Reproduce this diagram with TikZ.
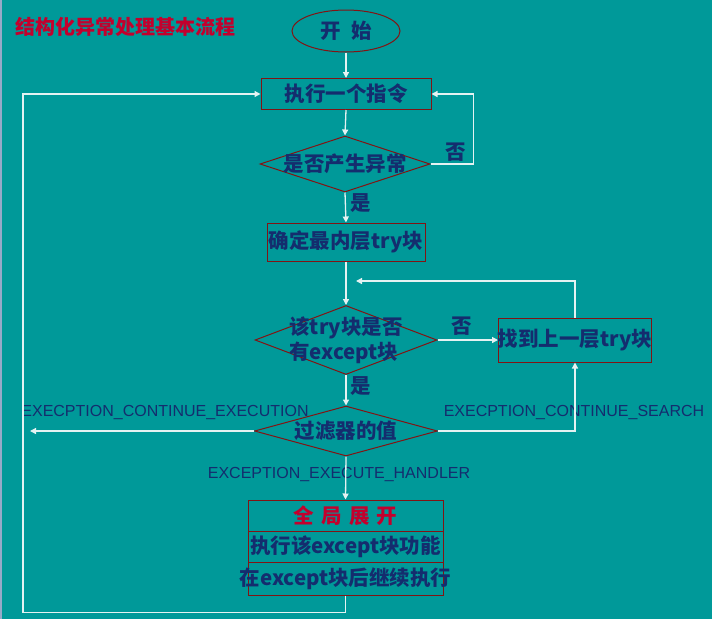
\documentclass[tikz,border=0pt]{standalone}
\usepackage{fontspec}
\usetikzlibrary{shapes.geometric,arrows.meta}
\newfontfamily\cjk{Noto Sans CJK SC}
\newfontfamily\lab{Liberation Sans}
\definecolor{bg}{RGB}{0,153,153}
\definecolor{tx}{RGB}{20,45,110}
\definecolor{rd}{RGB}{195,0,45}
\definecolor{bd}{RGB}{130,20,20}
\definecolor{ln}{RGB}{228,242,242}
\definecolor{edge}{RGB}{150,170,200}
\tikzset{
  cjkf/.style={font=\cjk\bfseries\fontsize{20.5}{25}\selectfont, text=tx},
  box/.style={draw=bd, line width=1pt, inner sep=0pt, cjkf},
  dia/.style={draw=bd, line width=1pt, shape=diamond, inner sep=0pt},
  arr/.style={draw=ln, line width=1.3pt, -{Triangle[length=6pt,width=6pt]}},
  elab/.style={font=\lab\fontsize{16}{18}\selectfont, text=tx, inner sep=0pt},
  ylab/.style={cjkf, inner sep=0pt}
}
\begin{document}
\begin{tikzpicture}[x=1pt,y=-1pt]
\useasboundingbox (0,0) rectangle (712,619);
\fill[bg] (0,0) rectangle (712,619);
\draw[edge, line width=2pt] (1,0) -- (1,619);

\node[font=\cjk\bfseries\fontsize{20}{22}\selectfont, text=rd, inner sep=0pt] (title) at (126,27) {结构化异常处理基本流程};

\node[draw=bd, line width=1pt, shape=ellipse, minimum width=108pt, minimum height=42pt, inner sep=0pt, cjkf] (start) at (346,31) {开\hspace{0.5em}始};
\node[box, minimum width=170pt, minimum height=31pt] (exec) at (346,94) {执行一个指令};
\node[dia, minimum width=170pt, minimum height=56pt] (d1) at (345,164) {};
\node[ylab] (d1t) at (d1.center) {是否产生异常};
\node[box, minimum width=158pt, minimum height=38pt] (try) at (346,242) {确定最内层try块};
\node[dia, minimum width=182pt, minimum height=69pt] (d2) at (346,340) {};
\node[ylab, align=left] (d2t) at (d2.center) {该try块是否\\有except块};
\node[box, minimum width=153pt, minimum height=44pt] (up) at (575,340) {};
\node[ylab] (upt) at (up.center) {找到上一层try块};
\node[dia, minimum width=183pt, minimum height=50pt] (d3) at (346,431) {};
\node[ylab] (d3t) at (d3.center) {过滤器的值};
\node[box, minimum width=195pt, minimum height=31pt, text=rd] (s1) at (345.5,515.5) {全\hspace{0.35em}局\hspace{0.35em}展\hspace{0.35em}开};
\node[box, minimum width=195pt, minimum height=31pt] (s2) at (345.5,546.5) {};
\node[ylab] (s2t) at (s2.center) {执行该except块功能};
\node[box, minimum width=195pt, minimum height=33pt] (s3) at (345.5,578.5) {};
\node[ylab] (s3t) at (s3.center) {在except块后继续执行};

\node[ylab] (no1) at (456,152) {否};
\node[ylab] (yes1) at (361,203) {是};
\node[ylab] (no2) at (462,326) {否};
\node[ylab] (yes2) at (361,386) {是};
\node[elab] (l1) at (165,412) {EXECPTION\_CONTINUE\_EXECUTION};
\node[elab] (l2) at (574,412) {EXECPTION\_CONTINUE\_SEARCH};
\node[elab] (l3) at (339,474) {EXCEPTION\_EXECUTE\_HANDLER};

\coordinate (c1) at (356,281);
\coordinate (c2) at (30,431);

\draw[arr] (start.south) -- (exec.north);
\draw[arr] (exec.south) -- (d1.north);
\draw[arr] (d1.east) -- ++(43,0) |- (exec.east);
\draw[arr] (d1.south) -- (try.north);
\draw[arr] (try.south) -- (d2.north);
\draw[arr] (d2.east) -- (up.west);
\draw[arr] (up.north) |- (c1);
\draw[arr] (d2.south) -- (d3.north);
\draw[arr] (d3.west) -- (c2);
\draw[arr] (d3.east) -| (up.south);
\draw[arr] (d3.south) -- (s1.north);
\draw[arr] (s3.south) -- ++(0,17) -| (23,300) |- (exec.west);
\end{tikzpicture}
\end{document}
